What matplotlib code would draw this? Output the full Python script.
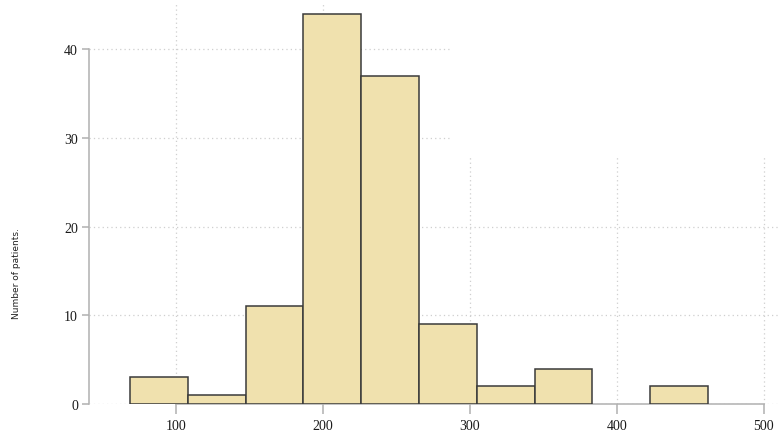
import matplotlib.pyplot as plt
from matplotlib.patches import Rectangle
import numpy as np

# histogram
bin_edges = [68.8, 108.1, 147.5, 186.8, 226.1, 265.4, 304.8, 344.1, 383.4, 422.8, 462.1]
counts = [3, 1, 11, 44, 37, 9, 2, 4, 0, 2]
x_ticks = [100, 200, 300, 400, 500]
y_ticks = [0, 10, 20, 30, 40]

fig = plt.figure(figsize=(7.8, 4.39), dpi=100)
ax = fig.add_axes([89 / 780, 1 - 405 / 439, 1 - 89 / 780, 400 / 439])

edges = np.array(bin_edges)
heights = np.array(counts)
keep = heights > 0  # empty bins draw nothing
ax.bar(edges[:-1][keep], heights[keep], width=np.diff(edges)[keep], align='edge',
       color='#f0e1ae', edgecolor='#3a3a3a', linewidth=1.1, zorder=3)

ax.set_xlim(41, 511)
ax.set_ylim(0, 45.1)

# dotted grid
grid_kw = dict(color='#cfcfcf', linestyle=(0, (1, 2.5)), linewidth=0.9, zorder=1)
for y in y_ticks:
    ax.axhline(y, **grid_kw)
for x in x_ticks:
    ax.axvline(x, **grid_kw)

# white patch over the top-right of the grid, as in the source image
ax.add_patch(Rectangle((287.8, 27.9), 300, 30, facecolor='white', edgecolor='none',
                       zorder=2, clip_on=False))

for s in ['top', 'right']:
    ax.spines[s].set_visible(False)
for s in ['left', 'bottom']:
    ax.spines[s].set_color('#b0b0b0')
    ax.spines[s].set_linewidth(1.1)
ax.spines['left'].set_bounds(0, 40)
ax.spines['bottom'].set_bounds(100, 500)
ax.spines['bottom'].set_zorder(2.5)

ax.set_xticks(x_ticks)
ax.set_yticks(y_ticks)
ax.tick_params(axis='x', length=7, width=1.1, color='#b0b0b0', pad=4)
ax.tick_params(axis='y', length=5, width=1.1, color='#b0b0b0', pad=3)
for lab in ax.get_xticklabels() + ax.get_yticklabels():
    lab.set_fontfamily('Liberation Serif')
    lab.set_fontsize(10)
    lab.set_color('#1a1a1a')

fig.text(17 / 780, 1 - 274 / 439, 'Number of patients.', rotation=90,
         ha='center', va='center', fontsize=6.5, family='DejaVu Sans', color='#222222')

fig.savefig('out.png', dpi=100)
